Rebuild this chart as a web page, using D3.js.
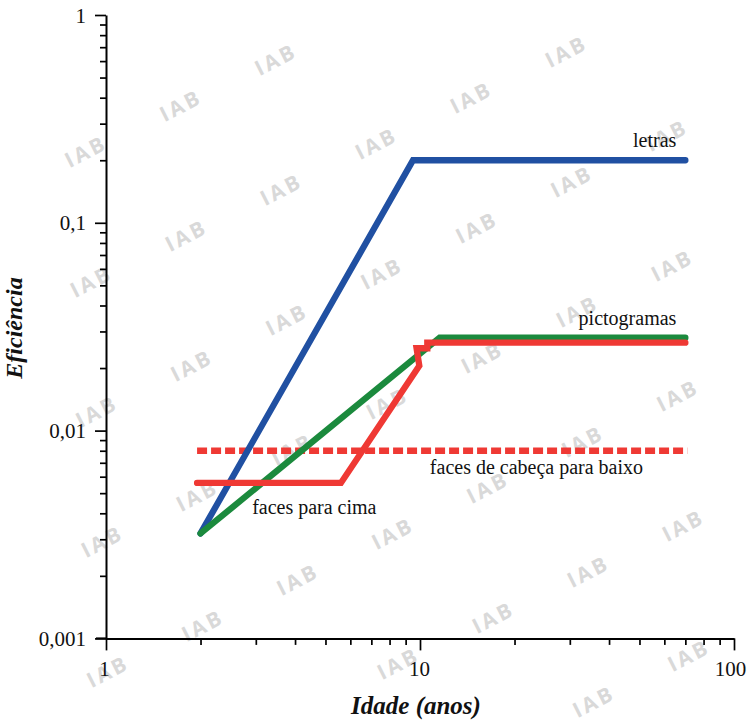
<!DOCTYPE html>
<html>
<head>
<meta charset="utf-8">
<script src="https://cdn.jsdelivr.net/npm/d3@7"></script>
<style>
  html, body { margin: 0; padding: 0; background: #fff; }
  svg { display: block; }
</style>
</head>
<body>
<svg id="chart" width="747" height="723"></svg>
<script>
// ---- data ----
const letrasAge = [2, 9.5, 70];
const letrasEff = [0.0032, 0.2, 0.2];

const pictogramasAge = [2, 11.55, 70];
const pictogramasEff = [0.0032, 0.028, 0.028];

const facesCimaAge = [1.95, 5.6, 9.95, 9.75, 10.55, 10.55, 70];
const facesCimaEff = [0.0056, 0.0056, 0.0205, 0.0249, 0.0249, 0.0265, 0.0265];

const facesBaixoAge = [1.95, 71];
const facesBaixoEff = [0.008, 0.008];

const xTickValues = [1, 10, 100];
const xTickLabels = ["1", "10", "100"];
const yTickValues = [0.001, 0.01, 0.1, 1];
const yTickLabels = ["0,001", "0,01", "0,1", "1"];

const seriesNames = ["letras", "pictogramas", "faces para cima", "faces de cabeça para baixo"];
const xTitle = "Idade (anos)";
const yTitle = "Eficiência";

const SERIF = "'Liberation Serif', 'Times New Roman', Times, serif";

// ---- setup ----
const svg = d3.select("#chart");
const x = d3.scaleLog().domain([1, 100]).range([106, 734]);
const y = d3.scaleLog().domain([0.001, 1]).range([638.4, 15]);

// watermark lattice (decorative)
const wm = svg.append("g");
for (let i = -8; i <= 12; i++) {
  for (let j = -2; j <= 10; j++) {
    const cx = 79 + i * 95 + j * 5.5;
    const cy = 22 - i * 46 + j * 130;
    if (cx < 24 || cx > 724 || cy < 26 || cy > 708) continue;
    wm.append("text")
      .attr("transform", `translate(${cx},${cy}) rotate(-27)`)
      .attr("text-anchor", "middle")
      .attr("dy", "0.36em")
      .attr("dx", "1.5px")
      .style("font-family", "'Open Sans', 'DejaVu Sans', sans-serif")
      .style("font-weight", 700)
      .style("font-size", "21px")
      .style("letter-spacing", "3px")
      .attr("fill", "#d9d9d9")
      .text("IAB");
  }
}

// ---- axes ----
function logTicks(lo, hi) {
  const out = [];
  for (let e = lo; e < hi; e++) for (let k = 1; k < 10; k++) out.push(k * Math.pow(10, e));
  out.push(Math.pow(10, hi));
  return out;
}
const yAll = logTicks(-3, 0);
const xAll = logTicks(0, 2);
const isMajor = v => Math.abs(Math.log10(v) - Math.round(Math.log10(v))) < 1e-9;

const yAxis = d3.axisLeft(y)
  .tickValues(yAll)
  .tickSize(11)
  .tickSizeOuter(0)
  .tickPadding(9)
  .tickFormat(v => {
    const idx = yTickValues.findIndex(t => Math.abs(t - v) / t < 1e-9);
    return idx >= 0 ? yTickLabels[idx] : "";
  });
const gy = svg.append("g").attr("transform", "translate(106,0)").call(yAxis);
gy.attr("font-family", null);
gy.selectAll(".tick line").attr("x2", d => isMajor(d) ? -11 : -6).attr("stroke-width", 1.7);
gy.select(".domain").attr("stroke-width", 2);
gy.selectAll("text").style("font-family", SERIF).style("font-size", "21px").attr("fill", "#111").attr("dy", "0.34em");

const xAxis = d3.axisBottom(x)
  .tickValues(xAll)
  .tickSize(12)
  .tickSizeOuter(0)
  .tickPadding(11)
  .tickFormat(v => {
    const idx = xTickValues.findIndex(t => Math.abs(t - v) / t < 1e-9);
    return idx >= 0 ? xTickLabels[idx] : "";
  });
const gx = svg.append("g").attr("transform", "translate(0,638.4)").call(xAxis);
gx.attr("font-family", null);
gx.selectAll(".tick line").attr("y2", d => isMajor(d) ? 12 : 6.5).attr("stroke-width", 1.7);
gx.select(".domain").attr("stroke-width", 2);
gx.selectAll("text").style("font-family", SERIF).style("font-size", "21px").attr("fill", "#111")
  .attr("dx", d => d === 100 ? "-4px" : d === 1 ? "-2px" : "-1px");
gx.append("line").attr("x1", 96).attr("x2", 106).attr("y1", 0).attr("y2", 0)
  .attr("stroke", "#000").attr("stroke-width", 2);

// axis titles
svg.append("text")
  .attr("x", 416).attr("y", 714)
  .attr("text-anchor", "middle")
  .style("font-family", SERIF)
  .style("font-size", "25px").style("font-weight", "bold").style("font-style", "italic")
  .attr("fill", "#111")
  .text(xTitle);
svg.append("text")
  .attr("transform", "translate(22,328) rotate(-90)")
  .attr("text-anchor", "middle")
  .style("font-family", SERIF)
  .style("font-size", "24px").style("font-weight", "bold").style("font-style", "italic")
  .attr("fill", "#111")
  .text(yTitle);

// ---- lines ----
const line = d3.line().x(d => x(d[0])).y(d => y(d[1]));
const zip = (a, b) => a.map((v, i) => [v, b[i]]);

const lines = [
  { pts: zip(facesBaixoAge, facesBaixoEff), color: "#ef3934", dash: "10,4", cap: "butt" },
  { pts: zip(letrasAge, letrasEff), color: "#2050a2", cap: "round" },
  { pts: zip(pictogramasAge, pictogramasEff), color: "#1b8a3d", cap: "round" },
  { pts: zip(facesCimaAge, facesCimaEff), color: "#ef3934", cap: "round" }
];
svg.append("g").selectAll("path").data(lines).join("path")
  .attr("d", d => line(d.pts))
  .attr("fill", "none")
  .attr("stroke", d => d.color)
  .attr("stroke-width", 6.3)
  .attr("stroke-linecap", d => d.cap)
  .attr("stroke-linejoin", "miter")
  .attr("stroke-dasharray", d => d.dash || null);

// ---- series labels ----
const lab = svg.append("g").style("font-family", SERIF).style("font-size", "20px").attr("fill", "#111");
lab.append("text").attr("text-anchor", "end")
  .attr("x", x(letrasAge[2]) - 9).attr("y", y(letrasEff[2]) - 13).text(seriesNames[0]);
lab.append("text").attr("text-anchor", "end")
  .attr("x", x(pictogramasAge[2]) - 9).attr("y", y(pictogramasEff[2]) - 13).text(seriesNames[1]);
lab.append("text").attr("text-anchor", "start")
  .attr("x", x(2.92)).attr("y", y(facesCimaEff[0]) + 31).text(seriesNames[2]);
lab.append("text").attr("text-anchor", "start")
  .attr("x", x(10.75)).attr("y", y(facesBaixoEff[0]) + 23).text(seriesNames[3]);
</script>
</body>
</html>
